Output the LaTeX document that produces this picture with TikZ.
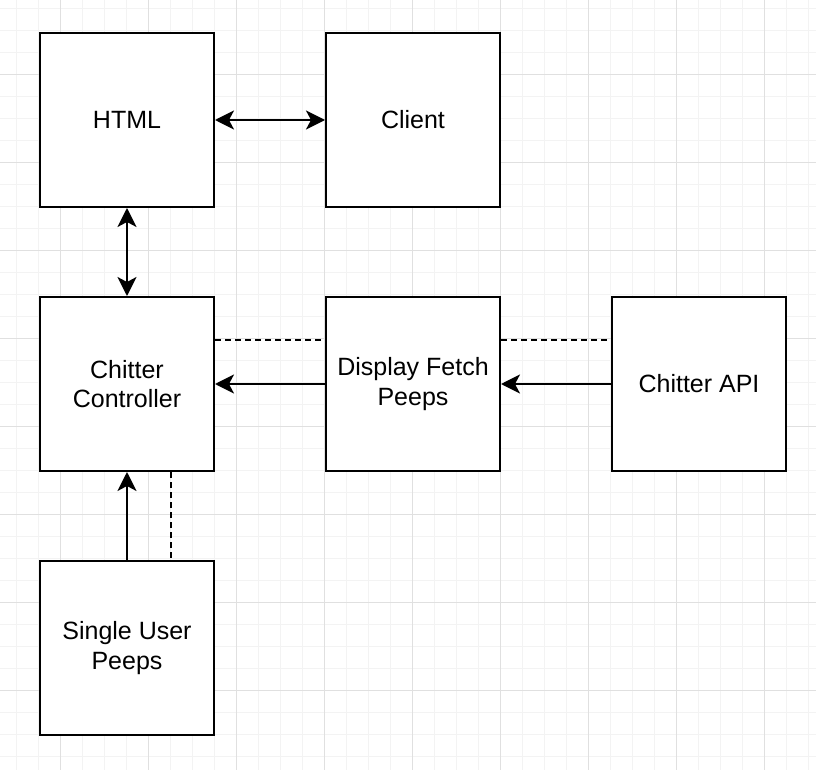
\documentclass[tikz,border=0pt]{standalone}
\usepackage{fontspec}
\setmainfont{Liberation Sans}
\usetikzlibrary{arrows.meta,calc}
\definecolor{gridminor}{HTML}{F3F3F3}
\definecolor{gridmajor}{HTML}{E0E0E0}
\begin{document}
\begin{tikzpicture}[x=1pt,y=-1pt,
  box/.style={draw=black,line width=2pt,fill=white,minimum width=174pt,minimum height=174pt,
    inner sep=0pt,align=center,font=\fontsize{25}{29.5}\selectfont},
  conn/.style={line width=2pt,draw=black},
  tip/.style={-{Stealth[length=19pt,width=19pt,inset=5pt]}},
  biarrow/.style={{Stealth[length=19pt,width=19pt,inset=5pt]}-{Stealth[length=19pt,width=19pt,inset=5pt]}},
  dashline/.style={line width=1.5pt,draw=black,dash pattern=on 6pt off 4pt}]
\useasboundingbox (0,0) rectangle (816,770);
\fill[white] (0,0) rectangle (816,770);
% minor grid
\foreach \i in {0,...,36} {\draw[gridminor,line width=1pt] ({16.7+22*\i},0) -- ({16.7+22*\i},770);}
\foreach \i in {0,...,34} {\draw[gridminor,line width=1pt] (0,{8.3+22*\i}) -- (816,{8.3+22*\i});}
% major grid
\foreach \i in {0,...,8} {\draw[gridmajor,line width=1pt] ({60.7+88*\i},0) -- ({60.7+88*\i},770);}
\foreach \i in {0,...,8} {\draw[gridmajor,line width=1pt] (0,{-13.7+88*\i}) -- (816,{-13.7+88*\i});}
% boxes
\node[box] (html) at (127,120) {HTML};
\node[box] (client) at (413,120) {Client};
\node[box] (ctrl) at (127,384) {Chitter\\Controller};
\node[box] (disp) at (413,384) {Display Fetch\\Peeps};
\node[box] (api) at (699,384) {Chitter API};
\node[box] (single) at (127,648) {Single User\\Peeps};
% connectors
\draw[conn,biarrow] (html.east) -- (client.west);
\draw[conn,biarrow] (html.south) -- (ctrl.north);
\draw[conn,tip] (disp.west) -- (ctrl.east);
\draw[conn,tip] (api.west) -- (disp.east);
\draw[conn,tip] (single.north) -- (ctrl.south);
\draw[dashline] ([yshift=44pt]ctrl.east) -- ([yshift=44pt]disp.west);
\draw[dashline] ([yshift=44pt]disp.east) -- ([yshift=44pt]api.west);
\draw[dashline] ([xshift=44pt]ctrl.south) -- ([xshift=44pt]single.north);
\end{tikzpicture}
\end{document}
